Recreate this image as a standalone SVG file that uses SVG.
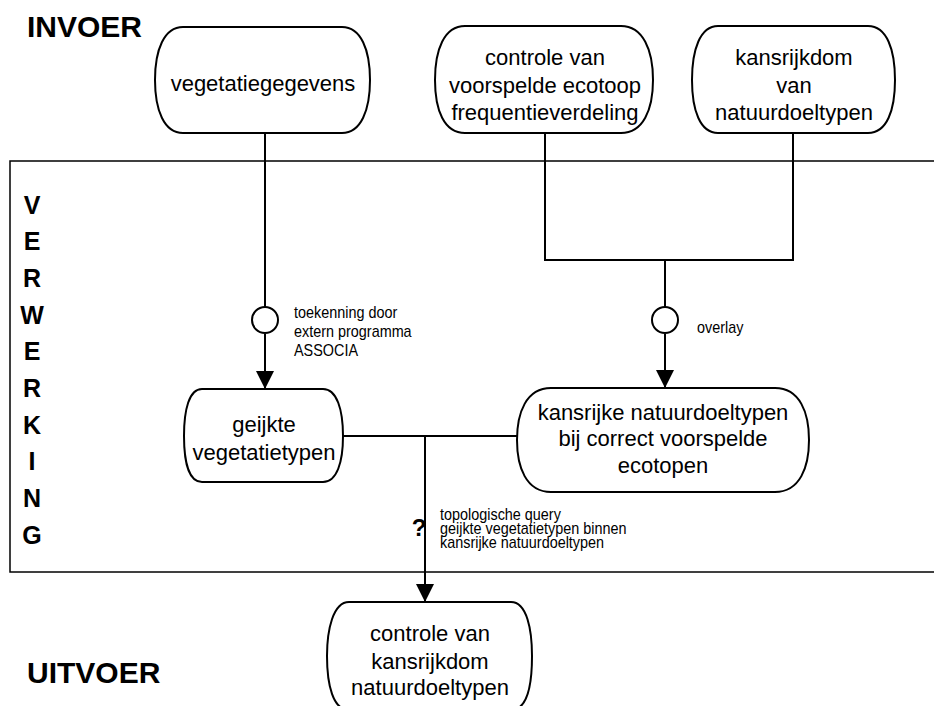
<svg xmlns="http://www.w3.org/2000/svg" width="934" height="706" viewBox="0 0 934 706">
<style>
.node{fill:#fff;stroke:#000;stroke-width:2;stroke-linejoin:round}
.nt{font-family:"Liberation Sans",Arial,sans-serif;font-size:22px;text-anchor:middle;fill:#000}
.hd{font-family:"Liberation Sans",Arial,sans-serif;font-size:30px;font-weight:bold;fill:#000}
.vl{font-family:"Liberation Sans",Arial,sans-serif;font-size:25px;font-weight:bold;text-anchor:middle;fill:#000}
.lb{font-family:"Liberation Sans",Arial,sans-serif;font-size:16px;fill:#000}
.ln{fill:none;stroke:#000;stroke-width:2}
.ci{fill:#fff;stroke:#000;stroke-width:2}
</style>
<defs>
<marker id="ah" viewBox="0 0 18 18" refX="18" refY="9" markerWidth="18" markerHeight="18" markerUnits="userSpaceOnUse" orient="auto">
<path d="M0,0 L18,9 L0,18 Z" fill="#000"/>
</marker>
</defs>
<rect x="10" y="161" width="940" height="411" fill="none" stroke="#000" stroke-width="1.5"/>
<text class="hd" x="27" y="37">INVOER</text>
<text class="hd" x="27" y="683">UITVOER</text>
<g id="verwerking">
<text class="vl" x="32" y="214">V</text>
<text class="vl" x="32" y="250">E</text>
<text class="vl" x="32" y="287">R</text>
<text class="vl" x="32" y="324">W</text>
<text class="vl" x="32" y="360">E</text>
<text class="vl" x="32" y="397">R</text>
<text class="vl" x="32" y="434">K</text>
<text class="vl" x="32" y="470">I</text>
<text class="vl" x="32" y="507">N</text>
<text class="vl" x="32" y="544">G</text>
</g>
<g id="connectors">
<path class="ln" d="M265,133 V307"/>
<path class="ln" d="M265,334 V389" marker-end="url(#ah)"/>
<circle class="ci" cx="265" cy="320" r="13"/>
<path class="ln" d="M545,133 V260 H793 V133"/>
<path class="ln" d="M665,260 V307"/>
<path class="ln" d="M665,334 V388" marker-end="url(#ah)"/>
<circle class="ci" cx="665" cy="320" r="13"/>
<path class="ln" d="M343,436 H518"/>
<path class="ln" d="M425,436 V602" marker-end="url(#ah)"/>
<g class="lb" transform="translate(294,318) scale(0.9,1)">
<text x="0" y="0">toekenning door</text>
<text x="0" y="19">extern programma</text>
<text x="0" y="38">ASSOCIA</text>
</g>
<g class="lb" transform="translate(697,333) scale(0.9,1)"><text x="0" y="0">overlay</text></g>
<text x="419" y="536" font-family="Liberation Sans,Arial,sans-serif" font-size="24" font-weight="bold" text-anchor="middle">?</text>
<g class="lb" transform="translate(440,520) scale(0.9,1)">
<text x="0" y="0">topologische query</text>
<text x="0" y="14">geijkte vegetatietypen binnen</text>
<text x="0" y="28">kansrijke natuurdoeltypen</text>
</g>
</g>
<g id="n1">
<path class="node" d="M183,27 H342 C361,27 370,50 370,80 C370,110 361,133 342,133 H183 C164,133 155,110 155,80 C155,50 164,27 183,27 Z"/>
<text class="nt" x="263" y="91">vegetatiegegevens</text>
</g>
<g id="n2">
<path class="node" d="M465,26 H621 C643,26 653,50 653,80 C653,110 643,133 621,133 H465 C444,133 435,110 435,80 C435,50 444,26 465,26 Z"/>
<text class="nt" x="545" y="65">controle van</text>
<text class="nt" x="545" y="93">voorspelde ecotoop</text>
<text class="nt" x="545" y="120">frequentieverdeling</text>
</g>
<g id="n3">
<path class="node" d="M718,26 H868 C887,26 895,50 895,80 C895,110 887,133 868,133 H718 C700,133 692,110 692,80 C692,50 700,26 718,26 Z"/>
<text class="nt" x="794" y="65">kansrijkdom</text>
<text class="nt" x="794" y="93">van</text>
<text class="nt" x="794" y="120">natuurdoeltypen</text>
</g>
<g id="n4">
<path class="node" d="M202,389 H323 C337,389 343,410 343,436 C343,462 337,482 323,482 H202 C189,482 184,462 184,436 C184,410 189,389 202,389 Z"/>
<text class="nt" x="264" y="432">geijkte</text>
<text class="nt" x="264" y="460">vegetatietypen</text>
</g>
<g id="n5">
<path class="node" d="M551,388 H775 C800,388 809,413 809,440 C809,467 800,492 775,492 H551 C526,492 517,467 517,440 C517,413 526,388 551,388 Z"/>
<text class="nt" x="663" y="420">kansrijke natuurdoeltypen</text>
<text class="nt" x="663" y="446">bij correct voorspelde</text>
<text class="nt" x="663" y="473">ecotopen</text>
</g>
<g id="n6">
<path class="node" d="M349,602 H511 C527,602 532,630 532,656 C532,685 527,710 511,710 H349 C333,710 327,685 327,656 C327,630 333,602 349,602 Z"/>
<text class="nt" x="430" y="641">controle van</text>
<text class="nt" x="430" y="669">kansrijkdom</text>
<text class="nt" x="430" y="695">natuurdoeltypen</text>
</g>
</svg>
